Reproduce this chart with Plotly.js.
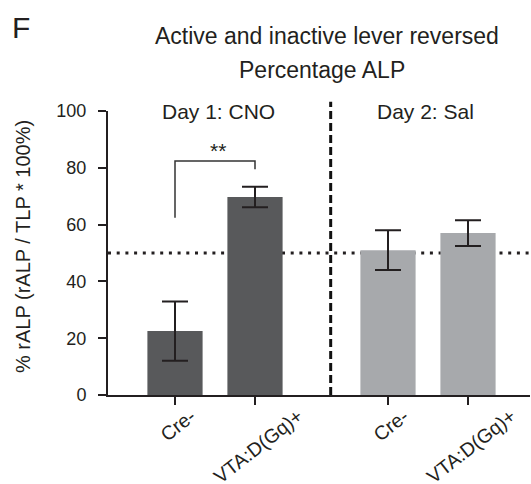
<!DOCTYPE html>
<html>
<head>
<meta charset="utf-8">
<script src="https://cdn.plot.ly/plotly-3.0.1.min.js"></script>
<style>html,body{margin:0;padding:0;background:#fff;}#chart{width:531px;height:484px;}</style>
</head>
<body>
<div id="chart"></div>
<script>
// ---- data ----
const groups = ["Day 1: CNO", "Day 2: Sal"];
const categories = ["Cre-", "VTA:D(Gq)+"];
const cnoValues = [22.5, 69.7];
const cnoErrors = [10.4, 3.6];
const salValues = [51.0, 57.0];
const salErrors = [7.0, 4.5];
const yTicks = [0, 20, 40, 60, 80, 100];
const chanceLevel = 50;
const sigLabel = "**";
const titleLines = ["Active and inactive lever reversed", "Percentage ALP"];
const yTitle = "% rALP (rALP / TLP * 100%)";
const panelLabel = "F";

// ---- layout helpers ----
const groupOffset = 2.6625;
const posFor = (g, i) => 1 + i + g * groupOffset;
const xCno = categories.map((_, i) => posFor(0, i));
const xSal = categories.map((_, i) => posFor(1, i));
const ink = "#231f20";
const font = "Liberation Sans, Arial, sans-serif";

const barTrace = (x, y, err, color) => ({
  type: "bar", x: x, y: y, width: 0.69,
  marker: {color: color, line: {width: 0}},
  error_y: {type: "data", array: err, visible: true, color: ink, thickness: 2, width: 13},
  hoverinfo: "skip", showlegend: false
});

const data = [
  barTrace(xCno, cnoValues, cnoErrors, "#58595b"),
  barTrace(xSal, salValues, salErrors, "#a7a9ac")
];

const annotations = [];
const addText = (text, x, y, size, extra) => annotations.push(Object.assign({
  text: text, x: x, y: y, xref: "paper", yref: "paper", showarrow: false,
  xanchor: "center", yanchor: "middle", font: {family: font, size: size, color: ink}
}, extra || {}));

addText(panelLabel, -0.2073, 1.2933, 30);
addText(titleLines[0], 0.519, 1.2627, 23);
addText(titleLines[1], 0.5064, 1.1451, 23);
addText(groups[0], 0.2607, 0.9965, 21);
addText(groups[1], 0.7512, 0.9965, 21);
addText(yTitle, -0.2014, 0.5211, 20, {textangle: -90});
[xCno, xSal].forEach(xs => xs.forEach((x, i) => {
  annotations.push({
    text: categories[i], x: x, xref: "x", y: -0.03, yref: "paper",
    xshift: 3, showarrow: false, textangle: -38, xanchor: "center", yanchor: "top",
    borderpad: 0,
    font: {family: font, size: 19.5, color: ink}
  });
}));
annotations.push({
  text: sigLabel, x: (xCno[0] + xCno[1]) / 2, xref: "x", y: 86.2, yref: "y",
  xshift: 3, showarrow: false, xanchor: "center", yanchor: "middle",
  font: {family: font, size: 21, color: ink}
});

const bracketTop = 82.4;
const shapes = [
  {type: "line", xref: "paper", yref: "y", x0: 0, x1: 1, y0: chanceLevel, y1: chanceLevel,
   layer: "below", line: {color: ink, width: 3, dash: "3px,5.7px"}},
  {type: "line", xref: "x", yref: "paper", x0: 2.946, x1: 2.946, y0: 0, y1: 1.033,
   line: {color: "#111", width: 3, dash: "8px,4px"}},
  {type: "path", xref: "x", yref: "y",
   path: `M ${xCno[0]},62.4 L ${xCno[0]},${bracketTop} L ${xCno[1]},${bracketTop} L ${xCno[1]},79.5`,
   line: {color: "#333", width: 1.5}}
];

const layout = {
  width: 531, height: 484,
  margin: {l: 108, r: 1, t: 111, b: 89},
  paper_bgcolor: "#fff", plot_bgcolor: "#fff",
  font: {family: font, color: ink},
  showlegend: false,
  xaxis: {
    range: [0.1625, 5.4375], showgrid: false, zeroline: false,
    showline: true, linecolor: ink, linewidth: 2,
    tickvals: xCno.concat(xSal), ticks: "outside", ticklen: 8, tickwidth: 2, tickcolor: ink,
    showticklabels: false, fixedrange: true
  },
  yaxis: {
    range: [0, 100], showgrid: false, zeroline: false,
    showline: true, linecolor: ink, linewidth: 2,
    tickvals: yTicks, ticks: "outside", ticklen: 8, tickwidth: 2, tickcolor: ink,
    tickfont: {family: font, size: 18, color: ink}, ticklabelstandoff: 8, fixedrange: true
  },
  annotations: annotations,
  shapes: shapes
};

Plotly.newPlot("chart", data, layout, {displayModeBar: false, staticPlot: true});
</script>
</body>
</html>
